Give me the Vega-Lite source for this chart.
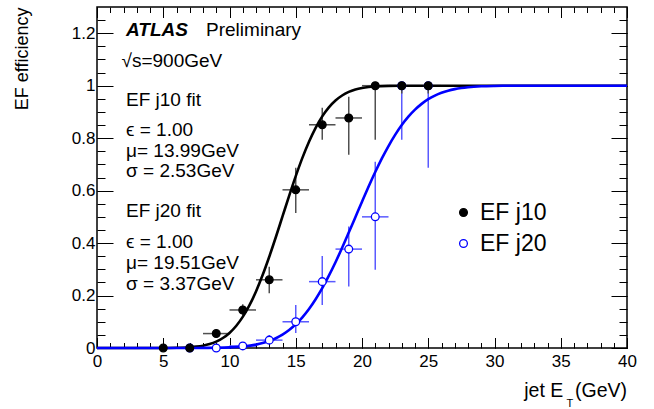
{
  "$schema": "https://vega.github.io/schema/vega-lite/v6.json",
  "width": 530,
  "height": 341,
  "autosize": {"type": "none"},
  "padding": {"left": 97, "top": 7, "right": 27, "bottom": 61},
  "background": "white",
  "config": {
    "view": {"stroke": "black", "strokeWidth": 1.5},
    "font": "Liberation Sans",
    "axis": {"domain": false, "tickColor": "black", "tickWidth": 1, "labelFont": "Liberation Sans", "labelFontSize": 17, "labelColor": "black", "grid": false, "labelFlush": false, "labelOverlap": false, "labelBound": false},
    "text": {"font": "Liberation Sans", "color": "black"}
  },
  "datasets": {
    "points": [
      {"series": "EF j20", "et": 7, "eff": 0, "lo": 0, "hi": 0, "etlo": 6, "ethi": 8},
      {"series": "EF j20", "et": 9, "eff": 0, "lo": 0, "hi": 0.01, "etlo": 8, "ethi": 10},
      {"series": "EF j20", "et": 11, "eff": 0.008, "lo": 0, "hi": 0.02, "etlo": 10, "ethi": 12},
      {"series": "EF j20", "et": 13, "eff": 0.03, "lo": 0.015, "hi": 0.05, "etlo": 12, "ethi": 14},
      {"series": "EF j20", "et": 15, "eff": 0.1, "lo": 0.057, "hi": 0.164, "etlo": 14, "ethi": 16},
      {"series": "EF j20", "et": 17, "eff": 0.253, "lo": 0.164, "hi": 0.351, "etlo": 16, "ethi": 18},
      {"series": "EF j20", "et": 19, "eff": 0.377, "lo": 0.234, "hi": 0.463, "etlo": 18, "ethi": 20},
      {"series": "EF j20", "et": 21, "eff": 0.5, "lo": 0.298, "hi": 0.71, "etlo": 20, "ethi": 22},
      {"series": "EF j20", "et": 23, "eff": 1, "lo": 0.794, "hi": 1, "etlo": 22, "ethi": 24},
      {"series": "EF j20", "et": 25, "eff": 1, "lo": 0.687, "hi": 1, "etlo": 24, "ethi": 26},
      {"series": "EF j10", "et": 5, "eff": 0, "lo": 0, "hi": 0, "etlo": 4, "ethi": 6},
      {"series": "EF j10", "et": 7, "eff": 0, "lo": 0, "hi": 0.01, "etlo": 6, "ethi": 8},
      {"series": "EF j10", "et": 9, "eff": 0.055, "lo": 0.04, "hi": 0.072, "etlo": 8, "ethi": 10},
      {"series": "EF j10", "et": 11, "eff": 0.145, "lo": 0.125, "hi": 0.167, "etlo": 10, "ethi": 12},
      {"series": "EF j10", "et": 13, "eff": 0.26, "lo": 0.209, "hi": 0.31, "etlo": 12, "ethi": 14},
      {"series": "EF j10", "et": 15, "eff": 0.603, "lo": 0.515, "hi": 0.687, "etlo": 14, "ethi": 16},
      {"series": "EF j10", "et": 17, "eff": 0.851, "lo": 0.794, "hi": 0.916, "etlo": 16, "ethi": 18},
      {"series": "EF j10", "et": 19, "eff": 0.877, "lo": 0.737, "hi": 0.958, "etlo": 18, "ethi": 20},
      {"series": "EF j10", "et": 21, "eff": 1, "lo": 0.794, "hi": 1, "etlo": 20, "ethi": 22},
      {"series": "EF j10", "et": 23, "eff": 1, "lo": 0.97, "hi": 1, "etlo": 22, "ethi": 24},
      {"series": "EF j10", "et": 25, "eff": 1, "lo": 0.97, "hi": 1, "etlo": 24, "ethi": 26}
    ],
    "fit10": [
      {"x": 0, "y": 0}, {"x": 2, "y": 0}, {"x": 4, "y": 0.00004}, {"x": 5, "y": 0.0002}, {"x": 6, "y": 0.0008},
      {"x": 7, "y": 0.0029}, {"x": 7.5, "y": 0.0052}, {"x": 8, "y": 0.0089}, {"x": 8.5, "y": 0.015}, {"x": 9, "y": 0.0243},
      {"x": 9.5, "y": 0.038}, {"x": 10, "y": 0.0574}, {"x": 10.5, "y": 0.084}, {"x": 11, "y": 0.1186}, {"x": 11.5, "y": 0.1625},
      {"x": 12, "y": 0.2157}, {"x": 12.5, "y": 0.278}, {"x": 13, "y": 0.3479}, {"x": 13.5, "y": 0.4231}, {"x": 14, "y": 0.5016},
      {"x": 14.5, "y": 0.58}, {"x": 15, "y": 0.6551}, {"x": 15.5, "y": 0.7247}, {"x": 16, "y": 0.7864}, {"x": 16.5, "y": 0.8394},
      {"x": 17, "y": 0.883}, {"x": 17.5, "y": 0.9173}, {"x": 18, "y": 0.9435}, {"x": 18.5, "y": 0.9627}, {"x": 19, "y": 0.9762},
      {"x": 19.5, "y": 0.9853}, {"x": 20, "y": 0.9912}, {"x": 20.5, "y": 0.995}, {"x": 21, "y": 0.9972}, {"x": 22, "y": 0.9992},
      {"x": 23, "y": 0.9998}, {"x": 24, "y": 1}, {"x": 30, "y": 1}, {"x": 40, "y": 1}
    ],
    "fit20": [
      {"x": 0, "y": 0}, {"x": 5, "y": 0.00001}, {"x": 7, "y": 0.0001}, {"x": 8, "y": 0.0003}, {"x": 9, "y": 0.0009},
      {"x": 10, "y": 0.0024}, {"x": 11, "y": 0.0058}, {"x": 12, "y": 0.0129}, {"x": 12.5, "y": 0.0188}, {"x": 13, "y": 0.0267},
      {"x": 13.5, "y": 0.0373}, {"x": 14, "y": 0.051}, {"x": 14.5, "y": 0.0685}, {"x": 15, "y": 0.0904}, {"x": 15.5, "y": 0.117},
      {"x": 16, "y": 0.1487}, {"x": 16.5, "y": 0.1859}, {"x": 17, "y": 0.2281}, {"x": 17.5, "y": 0.2756}, {"x": 18, "y": 0.3271},
      {"x": 18.5, "y": 0.3821}, {"x": 19, "y": 0.44}, {"x": 19.5, "y": 0.4988}, {"x": 20, "y": 0.5577}, {"x": 20.5, "y": 0.6156},
      {"x": 21, "y": 0.6708}, {"x": 21.5, "y": 0.7227}, {"x": 22, "y": 0.77}, {"x": 22.5, "y": 0.8125}, {"x": 23, "y": 0.8499},
      {"x": 23.5, "y": 0.8818}, {"x": 24, "y": 0.9086}, {"x": 24.5, "y": 0.9307}, {"x": 25, "y": 0.9484}, {"x": 25.5, "y": 0.9622},
      {"x": 26, "y": 0.9729}, {"x": 26.5, "y": 0.981}, {"x": 27, "y": 0.9869}, {"x": 27.5, "y": 0.9911}, {"x": 28, "y": 0.9941},
      {"x": 29, "y": 0.9976}, {"x": 30, "y": 0.9991}, {"x": 31, "y": 0.9997}, {"x": 32, "y": 0.9999}, {"x": 34, "y": 1}, {"x": 40, "y": 1}
    ]
  },
  "resolve": {"axis": {"x": "independent", "y": "independent"}},
  "layer": [
    {
      "data": {"name": "points"},
      "transform": [{"filter": "datum.series === 'EF j20'"}],
      "mark": {"type": "rule", "strokeWidth": 1.5, "color": "#5a5aff"},
      "encoding": {
        "x": {"field": "etlo", "type": "quantitative", "scale": {"domain": [0, 40], "nice": false, "zero": false},
              "axis": {"orient": "bottom", "values": [0,1,2,3,4,5,6,7,8,9,10,11,12,13,14,15,16,17,18,19,20,21,22,23,24,25,26,27,28,29,30,31,32,33,34,35,36,37,38,39,40], "offset": -5.5, "tickSize": 5.5, "labels": false, "title": null}},
        "x2": {"field": "ethi"},
        "y": {"field": "eff", "type": "quantitative", "scale": {"domain": [0, 1.3], "nice": false, "zero": false},
              "axis": {"orient": "left", "values": [0,0.05,0.1,0.15,0.2,0.25,0.3,0.35,0.4,0.45,0.5,0.55,0.6,0.65,0.7,0.75,0.8,0.85,0.9,0.95,1,1.05,1.1,1.15,1.2,1.25], "offset": -8, "tickSize": 8, "labels": false, "title": null}}
      }
    },
    {
      "data": {"name": "points"},
      "transform": [{"filter": "datum.series === 'EF j20'"}],
      "mark": {"type": "rule", "strokeWidth": 1.5, "color": "#5a5aff"},
      "encoding": {
        "x": {"field": "et", "type": "quantitative",
              "axis": {"orient": "top", "values": [0,1,2,3,4,5,6,7,8,9,10,11,12,13,14,15,16,17,18,19,20,21,22,23,24,25,26,27,28,29,30,31,32,33,34,35,36,37,38,39,40], "offset": -5.5, "tickSize": 5.5, "labels": false, "title": null}},
        "y": {"field": "lo", "type": "quantitative",
              "axis": {"orient": "right", "values": [0,0.05,0.1,0.15,0.2,0.25,0.3,0.35,0.4,0.45,0.5,0.55,0.6,0.65,0.7,0.75,0.8,0.85,0.9,0.95,1,1.05,1.1,1.15,1.2,1.25], "offset": -8, "tickSize": 8, "labels": false, "title": null}},
        "y2": {"field": "hi"}
      }
    },
    {
      "data": {"name": "points"},
      "transform": [{"filter": "datum.series === 'EF j10'"}],
      "mark": {"type": "rule", "strokeWidth": 1.5, "color": "#505050"},
      "encoding": {
        "x": {"field": "etlo", "type": "quantitative", "axis": null},
        "x2": {"field": "ethi"},
        "y": {"field": "eff", "type": "quantitative", "axis": null}
      }
    },
    {
      "data": {"name": "points"},
      "transform": [{"filter": "datum.series === 'EF j10'"}],
      "mark": {"type": "rule", "strokeWidth": 1.5, "color": "#505050"},
      "encoding": {
        "x": {"field": "et", "type": "quantitative", "axis": null},
        "y": {"field": "lo", "type": "quantitative", "axis": null},
        "y2": {"field": "hi"}
      }
    },
    {
      "data": {"name": "fit10"},
      "mark": {"type": "line", "color": "black", "strokeWidth": 2.6, "interpolate": "monotone"},
      "encoding": {
        "x": {"field": "x", "type": "quantitative",
              "axis": {"orient": "bottom", "values": [0,5,10,15,20,25,30,35,40], "offset": -10.5, "tickSize": 10.5, "labelPadding": 5.5, "title": null}},
        "y": {"field": "y", "type": "quantitative",
              "axis": {"orient": "left", "values": [0,0.2,0.4,0.6,0.8,1,1.2], "format": "~g", "offset": -16, "tickSize": 16, "labelPadding": 2,
                       "title": "EF efficiency", "titleFont": "Liberation Sans", "titleFontSize": 18, "titleFontWeight": "normal", "titleColor": "black",
                       "titleAngle": -90, "titleX": -91, "titleY": 0, "titleAlign": "right", "titleBaseline": "middle"}}
      }
    },
    {
      "data": {"name": "fit20"},
      "mark": {"type": "line", "color": "#0000ff", "strokeWidth": 2.6, "interpolate": "monotone"},
      "encoding": {
        "x": {"field": "x", "type": "quantitative",
              "axis": {"orient": "top", "values": [0,5,10,15,20,25,30,35,40], "offset": -10.5, "tickSize": 10.5, "labels": false, "title": null}},
        "y": {"field": "y", "type": "quantitative",
              "axis": {"orient": "right", "values": [0,0.2,0.4,0.6,0.8,1,1.2], "offset": -16, "tickSize": 16, "labels": false, "title": null}}
      }
    },
    {
      "data": {"name": "points"},
      "mark": {"type": "point", "shape": "circle", "size": 60, "strokeWidth": 1.3, "opacity": 1, "fillOpacity": 1, "strokeOpacity": 1},
      "encoding": {
        "x": {"field": "et", "type": "quantitative", "axis": null},
        "y": {"field": "eff", "type": "quantitative", "axis": null},
        "fill": {"field": "series", "type": "nominal", "scale": {"domain": ["EF j10", "EF j20"], "range": ["black", "white"]},
                 "legend": {"orient": "none", "legendX": 355, "legendY": 194, "title": null, "labelFontSize": 23, "labelFont": "Liberation Sans", "labelColor": "black", "rowPadding": 7, "labelOffset": 5, "symbolSize": 60, "symbolStrokeWidth": 1.3, "padding": 0}},
        "stroke": {"field": "series", "type": "nominal", "scale": {"domain": ["EF j10", "EF j20"], "range": ["black", "#0000ff"]},
                 "legend": {"orient": "none", "legendX": 355, "legendY": 194, "title": null, "labelFontSize": 23, "labelFont": "Liberation Sans", "labelColor": "black", "rowPadding": 7, "labelOffset": 5, "symbolSize": 60, "symbolStrokeWidth": 1.3, "padding": 0}}
      }
    },
    {
      "data": {"values": [{"label": "ATLAS"}]},
      "mark": {"type": "text", "align": "left", "baseline": "alphabetic", "fontSize": 19, "fontStyle": "italic", "fontWeight": "bold"},
      "encoding": {"x": {"datum": 2.19, "type": "quantitative", "axis": null}, "y": {"datum": 1.1895, "type": "quantitative", "axis": null}, "text": {"field": "label"}}
    },
    {
      "data": {"values": [{"label": "Preliminary"}]},
      "mark": {"type": "text", "align": "left", "baseline": "alphabetic", "fontSize": 19},
      "encoding": {"x": {"datum": 8.23, "type": "quantitative", "axis": null}, "y": {"datum": 1.1895, "type": "quantitative", "axis": null}, "text": {"field": "label"}}
    },
    {
      "data": {"values": [{"label": "√s=900GeV"}]},
      "mark": {"type": "text", "align": "left", "baseline": "alphabetic", "fontSize": 19},
      "encoding": {"x": {"datum": 1.85, "type": "quantitative", "axis": null}, "y": {"datum": 1.0713, "type": "quantitative", "axis": null}, "text": {"field": "label"}}
    },
    {
      "data": {"values": [{"label": "EF j10 fit"}]},
      "mark": {"type": "text", "align": "left", "baseline": "alphabetic", "fontSize": 19},
      "encoding": {"x": {"datum": 2.19, "type": "quantitative", "axis": null}, "y": {"datum": 0.9226, "type": "quantitative", "axis": null}, "text": {"field": "label"}}
    },
    {
      "data": {"values": [{"label": "ϵ = 1.00\nμ= 13.99GeV\nσ = 2.53GeV"}]},
      "mark": {"type": "text", "align": "left", "baseline": "alphabetic", "fontSize": 19, "lineBreak": "\n", "lineHeight": 20.5},
      "encoding": {"x": {"datum": 2.19, "type": "quantitative", "axis": null}, "y": {"datum": 0.8082, "type": "quantitative", "axis": null}, "text": {"field": "label"}}
    },
    {
      "data": {"values": [{"label": "EF j20 fit"}]},
      "mark": {"type": "text", "align": "left", "baseline": "alphabetic", "fontSize": 19},
      "encoding": {"x": {"datum": 2.19, "type": "quantitative", "axis": null}, "y": {"datum": 0.4994, "type": "quantitative", "axis": null}, "text": {"field": "label"}}
    },
    {
      "data": {"values": [{"label": "ϵ = 1.00\nμ= 19.51GeV\nσ = 3.37GeV"}]},
      "mark": {"type": "text", "align": "left", "baseline": "alphabetic", "fontSize": 19, "lineBreak": "\n", "lineHeight": 21},
      "encoding": {"x": {"datum": 2.19, "type": "quantitative", "axis": null}, "y": {"datum": 0.3812, "type": "quantitative", "axis": null}, "text": {"field": "label"}}
    },
    {
      "data": {"values": [{"label": "jet E"}]},
      "mark": {"type": "text", "align": "right", "baseline": "alphabetic", "fontSize": 19.5},
      "encoding": {"x": {"datum": 35.19, "type": "quantitative", "axis": null}, "y": {"datum": -0.1857, "type": "quantitative", "axis": null}, "text": {"field": "label"}}
    },
    {
      "data": {"values": [{"label": "T"}]},
      "mark": {"type": "text", "align": "right", "baseline": "alphabetic", "fontSize": 11},
      "encoding": {"x": {"datum": 35.95, "type": "quantitative", "axis": null}, "y": {"datum": -0.224, "type": "quantitative", "axis": null}, "text": {"field": "label"}}
    },
    {
      "data": {"values": [{"label": "(GeV)"}]},
      "mark": {"type": "text", "align": "right", "baseline": "alphabetic", "fontSize": 19.5},
      "encoding": {"x": {"datum": 40, "type": "quantitative", "axis": null}, "y": {"datum": -0.1857, "type": "quantitative", "axis": null}, "text": {"field": "label"}}
    }
  ]
}
